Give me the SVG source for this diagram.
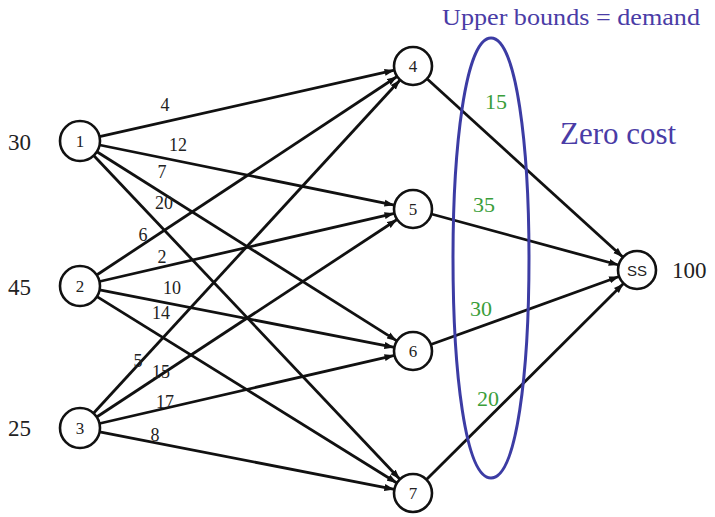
<svg xmlns="http://www.w3.org/2000/svg" width="715" height="517" viewBox="0 0 715 517">
<style>
.node circle{fill:#fff;stroke:#111;stroke-width:2.6}
.nl{font-family:"Liberation Serif",serif;font-size:17px;fill:#222;text-anchor:middle;dominant-baseline:central}
.ss{font-family:"Liberation Sans",sans-serif;font-size:15px;fill:#222;text-anchor:middle;dominant-baseline:central}
.edges line{stroke:#111;stroke-width:2.8;marker-end:url(#arr)}
.el{font-family:"Liberation Serif",serif;font-size:18px;fill:#222;text-anchor:middle}
.sup{font-family:"Liberation Serif",serif;font-size:23px;fill:#222}
.grn{font-family:"Liberation Serif",serif;font-size:22px;fill:#3a9e3a;text-anchor:middle}
.blu{font-family:"Liberation Serif",serif;fill:#4a3ca6}
</style>
<defs>
<marker id="arr" markerUnits="userSpaceOnUse" markerWidth="11" markerHeight="8" refX="10" refY="4" orient="auto">
<path d="M0,0.5 L10,4 L0,7.5 z" fill="#111"/>
</marker>
</defs>
<rect width="715" height="517" fill="#fff"/>
<g id="connectors" class="edges">
<line x1="99.5" y1="136.6" x2="394.5" y2="70.2"/>
<line x1="99.6" y1="145.0" x2="394.4" y2="205.2"/>
<line x1="96.9" y1="151.7" x2="396.9" y2="340.9"/>
<line x1="93.7" y1="155.5" x2="399.9" y2="479.2"/>
<line x1="96.7" y1="275.0" x2="397.1" y2="76.5"/>
<line x1="99.5" y1="281.5" x2="394.5" y2="213.3"/>
<line x1="99.6" y1="289.8" x2="394.4" y2="347.4"/>
<line x1="97.0" y1="296.6" x2="396.9" y2="483.0"/>
<line x1="93.5" y1="413.3" x2="400.1" y2="80.0"/>
<line x1="96.7" y1="417.0" x2="397.1" y2="219.5"/>
<line x1="99.5" y1="423.5" x2="394.5" y2="355.3"/>
<line x1="99.6" y1="431.8" x2="394.4" y2="489.4"/>
<line x1="427.0" y1="78.8" x2="623.0" y2="257.2"/>
<line x1="431.3" y1="214.0" x2="618.7" y2="265.0"/>
<line x1="430.9" y1="344.5" x2="619.1" y2="276.5"/>
<line x1="426.5" y1="479.6" x2="623.5" y2="283.4"/>
</g>
<g id="edge-labels">
<text class="el" x="165" y="111">4</text>
<text class="el" x="178" y="151">12</text>
<text class="el" x="162" y="178">7</text>
<text class="el" x="164" y="209">20</text>
<text class="el" x="143" y="241">6</text>
<text class="el" x="162" y="263">2</text>
<text class="el" x="172" y="294">10</text>
<text class="el" x="161" y="319">14</text>
<text class="el" x="138" y="367">5</text>
<text class="el" x="161" y="378">15</text>
<text class="el" x="165" y="408">17</text>
<text class="el" x="155" y="441">8</text>
</g>
<path id="bounds" d="M491,38 C517,38 529,150 529,258 C529,370 517,478 491,478 C465,478 453,370 453,258 C453,150 465,38 491,38 Z" fill="none" stroke="#3c3ca4" stroke-width="3"/>
<g id="capacities">
<text class="grn" x="496" y="109">15</text>
<text class="grn" x="484" y="212">35</text>
<text class="grn" x="481" y="316">30</text>
<text class="grn" x="488" y="406">20</text>
</g>
<g id="n1" class="node"><circle cx="80" cy="141" r="20"/><text class="nl" x="80" y="141">1</text></g>
<g id="n2" class="node"><circle cx="80" cy="286" r="20"/><text class="nl" x="80" y="286">2</text></g>
<g id="n3" class="node"><circle cx="80" cy="428" r="20"/><text class="nl" x="80" y="428">3</text></g>
<g id="n4" class="node"><circle cx="413" cy="66" r="19"/><text class="nl" x="413" y="66">4</text></g>
<g id="n5" class="node"><circle cx="413" cy="209" r="19"/><text class="nl" x="413" y="209">5</text></g>
<g id="n6" class="node"><circle cx="413" cy="351" r="19"/><text class="nl" x="413" y="351">6</text></g>
<g id="n7" class="node"><circle cx="413" cy="493" r="19"/><text class="nl" x="413" y="493">7</text></g>
<g id="nSS" class="node"><circle cx="637" cy="270" r="19"/><text class="ss" x="637" y="270">SS</text></g>
<g id="supplies">
<text class="sup" x="8" y="150">30</text>
<text class="sup" x="8" y="295">45</text>
<text class="sup" x="8" y="436">25</text>
<text class="sup" x="672" y="278">100</text>
</g>
<text class="blu" x="442" y="25" font-size="23" textLength="258" lengthAdjust="spacingAndGlyphs">Upper bounds = demand</text>
<text class="blu" x="560" y="144" font-size="31">Zero cost</text>
</svg>
